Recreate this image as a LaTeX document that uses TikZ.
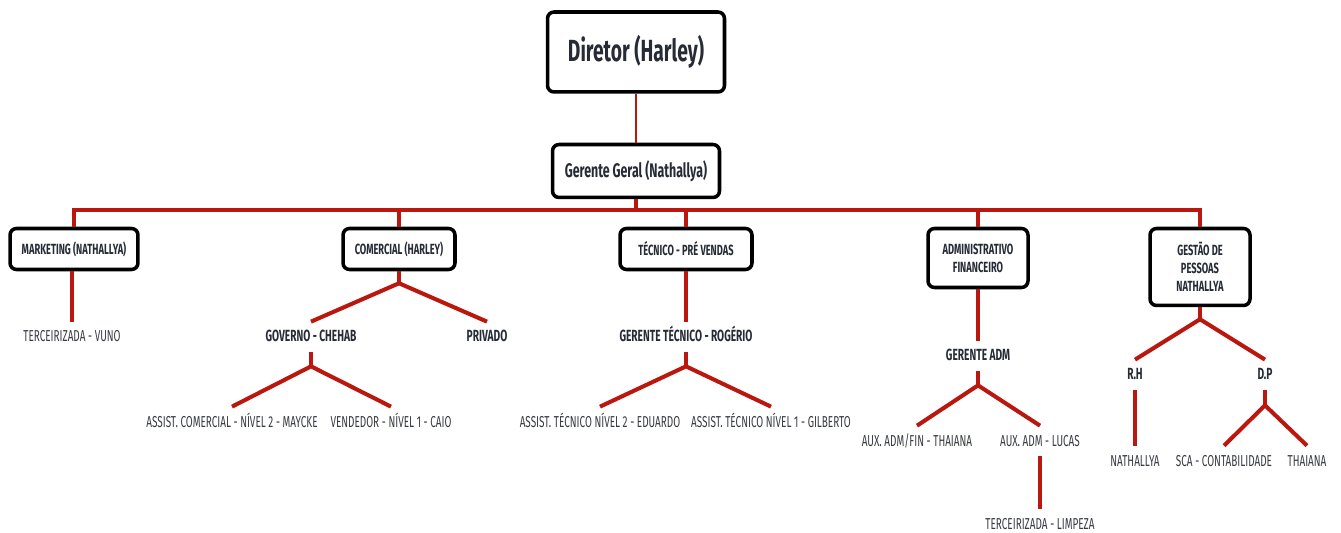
\documentclass[tikz,border=0pt]{standalone}
\usepackage{fontspec}
\newfontfamily\cond[FakeStretch=0.63]{Fira Sans}
\definecolor{vermelho}{HTML}{BA170F}
\definecolor{tinta}{HTML}{262B36}
\definecolor{cinza}{HTML}{383B42}
\tikzset{
  caixa/.style={draw=black, line width=2pt, rounded corners=0.13cm, fill=white,
    align=center, text=tinta, font=\cond\bfseries\fontsize{8.4}{10.2}\selectfont, inner sep=1pt},
  rotulo/.style={text=cinza, font=\cond\fontsize{9}{10}\selectfont,
    text height=0.2cm, text depth=0cm, inner xsep=1pt, inner ysep=0.2cm},
  chefe/.style={rotulo, text=tinta, font=\cond\bfseries\fontsize{9.2}{10}\selectfont},
  ramo/.style={draw=vermelho, line width=2.3pt},
}
\begin{document}
\begin{tikzpicture}[x=0.02cm, y=-0.02cm]
    \useasboundingbox (0,0) rectangle (1341,533);

    % topo
    \node[caixa, minimum width=3.54cm, minimum height=1.6cm, font=\cond\bfseries\fontsize{17.4}{19}\selectfont] (dir) at (636,52) {Diretor (Harley)};
    \node[caixa, minimum width=3.34cm, minimum height=1.06cm, font=\cond\bfseries\fontsize{11.2}{13}\selectfont] (ger) at (636,171) {Gerente Geral (Nathallya)};
    \draw[draw=vermelho, line width=1pt] (dir) -- (ger);

    % areas
    \node[caixa, minimum width=2.56cm, minimum height=0.82cm] (mkt) at (74,249) {MARKETING (NATHALLYA)};
    \node[caixa, minimum width=2.24cm, minimum height=0.82cm] (com) at (399,249) {COMERCIAL (HARLEY)};
    \node[caixa, minimum width=2.64cm, minimum height=0.82cm] (tec) at (686,249) {TÉCNICO - PRÉ VENDAS};
    \node[caixa, minimum width=2.0cm, minimum height=1.18cm] (adm) at (978,258) {ADMINISTRATIVO\\FINANCEIRO};
    \node[caixa, minimum width=2.0cm, minimum height=1.54cm] (ges) at (1200,267) {GESTÃO DE\\PESSOAS\\NATHALLYA};

    % barramento
    \draw[ramo] (mkt.north) -- ++(0,-17) coordinate (bus) -| (ges.north);
    \draw[ramo] (ger.south) -- (ger.south |- bus);
    \draw[ramo] (com.north) -- (com.north |- bus);
    \draw[ramo] (tec.north) -- (tec.north |- bus);
    \draw[ramo] (adm.north) -- (adm.north |- bus);

    % marketing
    \node[rotulo] (vuno) at (72,337) {TERCEIRIZADA - VUNO};
    \draw[ramo] (mkt.south -| vuno) -- (vuno.north);

    % comercial
    \node[chefe] (gov) at (311,337) {GOVERNO - CHEHAB};
    \node[chefe] (priv) at (487,337) {PRIVADO};
    \node[rotulo] (mayc) at (232,422) {ASSIST. COMERCIAL - NÍVEL 2 - MAYCKE};
    \node[rotulo] (caio) at (391,422) {VENDEDOR - NÍVEL 1 - CAIO};
    \path (com.south) ++(0,12) coordinate (comB);
    \path (gov.south) ++(0,14) coordinate (govB);
    \draw[ramo] (com.south) -- (comB);
    \draw[ramo] (gov.north) -- (comB) -- (priv.north);
    \draw[ramo] (gov.south) -- (govB);
    \draw[ramo] (mayc.north) -- (govB) -- (caio.north);

    % tecnico
    \node[chefe] (rog) at (686,337) {GERENTE TÉCNICO - ROGÉRIO};
    \node[rotulo] (edu) at (600,422) {ASSIST. TÉCNICO NÍVEL 2 - EDUARDO};
    \node[rotulo] (gil) at (771,422) {ASSIST. TÉCNICO NÍVEL 1 - GILBERTO};
    \path (rog.south) ++(0,14) coordinate (rogB);
    \draw[ramo] (tec.south) -- (rog.north);
    \draw[ramo] (rog.south) -- (rogB);
    \draw[ramo] (edu.north) -- (rogB) -- (gil.north);

    % administrativo
    \node[chefe] (gadm) at (978,356) {GERENTE ADM};
    \node[rotulo] (thai) at (917,441) {AUX. ADM/FIN - THAIANA};
    \node[rotulo] (luc) at (1040,441) {AUX. ADM - LUCAS};
    \node[rotulo] (limp) at (1040,524) {TERCEIRIZADA - LIMPEZA};
    \path (gadm.south) ++(0,14) coordinate (gadmB);
    \draw[ramo] (adm.south) -- (gadm.north);
    \draw[ramo] (gadm.south) -- (gadmB);
    \draw[ramo] (thai.north) -- (gadmB) -- (luc.north);
    \draw[ramo] (luc.south) -- (limp.north);

    % gestao de pessoas
    \node[chefe] (rh) at (1135,375) {R.H};
    \node[chefe] (dp) at (1265,375) {D.P};
    \node[rotulo] (nat) at (1135,461) {NATHALLYA};
    \node[rotulo] (sca) at (1224,461) {SCA - CONTABILIDADE};
    \node[rotulo] (thai2) at (1307,461) {THAIANA};
    \path (ges.south) ++(0,12) coordinate (gesB);
    \path (dp.south) ++(0,15) coordinate (dpB);
    \draw[ramo] (ges.south) -- (gesB);
    \draw[ramo] (rh.north) -- (gesB) -- (dp.north);
    \draw[ramo] (rh.south) -- (nat.north);
    \draw[ramo] (dp.south) -- (dpB);
    \draw[ramo] (sca.north) -- (dpB) -- (thai2.north);
\end{tikzpicture}
\end{document}
